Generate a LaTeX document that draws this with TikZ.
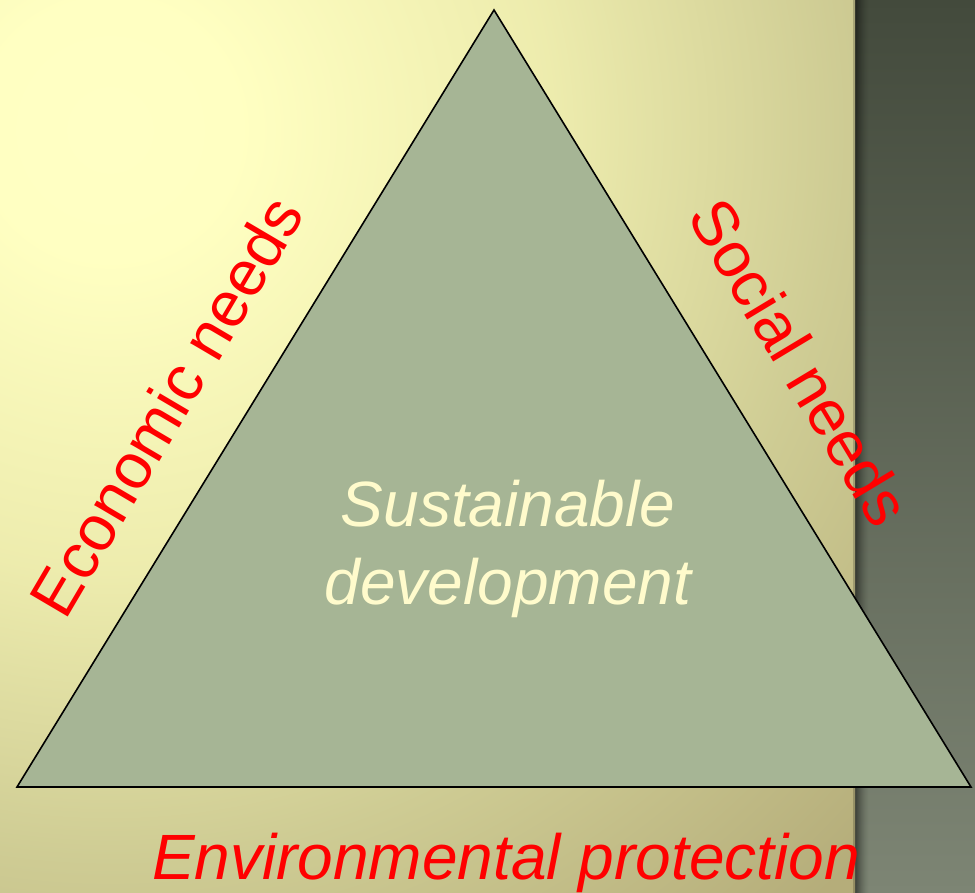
\documentclass[tikz,border=0pt]{standalone}
\usepackage{fontspec}
\setmainfont{Liberation Sans}
\definecolor{tri}{HTML}{A6B595}
\definecolor{lab}{HTML}{FF0000}
\definecolor{cream}{HTML}{FFFBCC}
\definecolor{sideA}{HTML}{434A3C}
\definecolor{sideB}{HTML}{7D8574}
\pgfdeclareradialshading{papershade}{\pgfpoint{0bp}{0bp}}{%
 rgb(0bp)=(1,1,.77);
 rgb(2.5bp)=(1,1,.76);
 rgb(8.5bp)=(.93,.925,.68);
 rgb(14bp)=(.81,.80,.58);
 rgb(20bp)=(.71,.68,.48);
 rgb(50bp)=(.68,.65,.45)}
\tikzset{x=1pt,y=-1pt,
 trianglebox/.style={draw=black,line width=1.6pt,fill=tri,line join=miter},
 redlabel/.style={text=lab,font=\fontsize{64}{66}\selectfont,inner sep=0pt,anchor=center},
 envlabel/.style={text=lab,font=\fontsize{64}{70}\selectfont\itshape,inner sep=0pt,anchor=center},
 mainlabel/.style={text=cream,font=\fontsize{64}{78}\selectfont\itshape,align=center,inner sep=0pt}}
\begin{document}
\begin{tikzpicture}
\useasboundingbox (0,0) rectangle (975,893);
\clip (0,0) rectangle (975,893);
% right dark band
\shade[top color=sideA,bottom color=sideB] (855,0) rectangle (975,893);
\foreach \i in {0,...,13}{
  \pgfmathsetmacro{\op}{0.5*(1-\i/14)^1.5}
  \fill[black,opacity=\op] (855+\i,0) rectangle (856+\i,893);
}
% paper background
\begin{scope}
\clip (0,0) rectangle (855,893);
\shade[shading=papershade] (110,130) circle (1300);
\fill[black,opacity=0.18] (853,0) rectangle (855,893);
\end{scope}
\coordinate (top) at (494,10);
\coordinate (bl) at (17,787);
\coordinate (br) at (971,787);
\draw[trianglebox] (top) -- (br) -- (bl) -- cycle;
\node[mainlabel] (center) at (508,549) {Sustainable\\development};
\node[redlabel,rotate=-59] (social) at (800,362) {Social needs};
\node[redlabel,rotate=59.5] (economic) at (166,406) {Economic needs};
\node[envlabel] (env) at (506,863) {Environmental protection};
\end{tikzpicture}
\end{document}
